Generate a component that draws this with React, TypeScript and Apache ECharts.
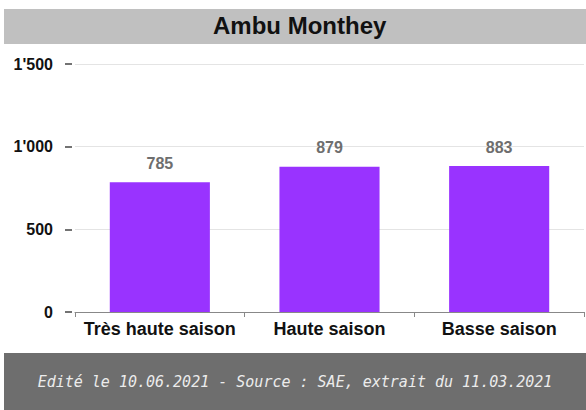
import React, { useEffect, useRef } from "react";
import * as echarts from "echarts";

const titleText = "Ambu Monthey";
const footerText = "Edité le 10.06.2021 - Source : SAE, extrait du 11.03.2021";
const categories = ["Très haute saison", "Haute saison", "Basse saison"];
const values = [785, 879, 883];
const yTicks = [0, 500, 1000, 1500];

const fmt = (v: number) => String(v).replace(/\B(?=(\d{3})+(?!\d))/g, "'");

export default function App() {
  const ref = useRef<HTMLDivElement>(null);
  useEffect(() => {
    if (!ref.current) return;
    const chart = echarts.init(ref.current, undefined, { renderer: "svg" });
    chart.setOption({
      animation: false,
      backgroundColor: "#ffffff",
      title: {
        text: titleText,
        left: 213,
        top: 13,
        padding: 0,
        textStyle: {
          fontFamily: "Liberation Sans, Arial, sans-serif",
          fontSize: 24,
          fontWeight: "bold",
          color: "#111111",
        },
      },
      graphic: [
        {
          type: "rect",
          z: -10,
          shape: { x: 4, y: 9, width: 582, height: 35 },
          style: { fill: "#c0c0c0" },
        },
        {
          type: "rect",
          z: -10,
          shape: { x: 4, y: 353, width: 582, height: 57 },
          style: { fill: "#6e6e6e" },
        },
        {
          type: "text",
          x: 295,
          y: 382,
          style: {
            text: footerText,
            fill: "#ececec",
            fontFamily: "DejaVu Sans Mono, monospace",
            fontStyle: "italic",
            fontSize: 15,
            align: "center",
            verticalAlign: "middle",
          },
        },
      ],
      grid: { left: 75, right: 2, top: 64, bottom: 98, containLabel: false },
      xAxis: {
        type: "category",
        data: categories,
        axisLine: { show: true, lineStyle: { color: "#888888", width: 1 } },
        axisTick: { show: true, length: 5, lineStyle: { color: "#888888" } },
        axisLabel: {
          interval: 0,
          margin: 8,
          fontFamily: "Liberation Sans, Arial, sans-serif",
          fontSize: 18,
          fontWeight: "bold",
          color: "#111111",
        },
        splitLine: { show: false },
      },
      yAxis: {
        type: "value",
        min: yTicks[0],
        max: yTicks[yTicks.length - 1],
        interval: yTicks[1] - yTicks[0],
        offset: 3,
        axisLine: { show: false },
        axisTick: { show: true, length: 7, lineStyle: { color: "#444444", width: 1.5 } },
        axisLabel: {
          margin: 19,
          formatter: (v: number) => fmt(v),
          fontFamily: "Liberation Sans, Arial, sans-serif",
          fontSize: 16,
          fontWeight: "bold",
          color: "#111111",
        },
        splitLine: { show: true, lineStyle: { color: "#e4e4e4", width: 1 } },
      },
      series: [
        {
          type: "bar",
          data: values,
          barWidth: "59%",
          itemStyle: { color: "#9933ff" },
          label: {
            show: true,
            position: "top",
            distance: 11,
            formatter: (p: any) => fmt(p.value),
            fontFamily: "Liberation Sans, Arial, sans-serif",
            fontSize: 16,
            fontWeight: "bold",
            color: "#6e6e6e",
          },
        },
      ],
    });
    return () => chart.dispose();
  }, []);
  return (
    <div
      ref={ref}
      style={{ position: "absolute", left: 0, top: 0, width: 586, height: 410 }}
    />
  );
}
